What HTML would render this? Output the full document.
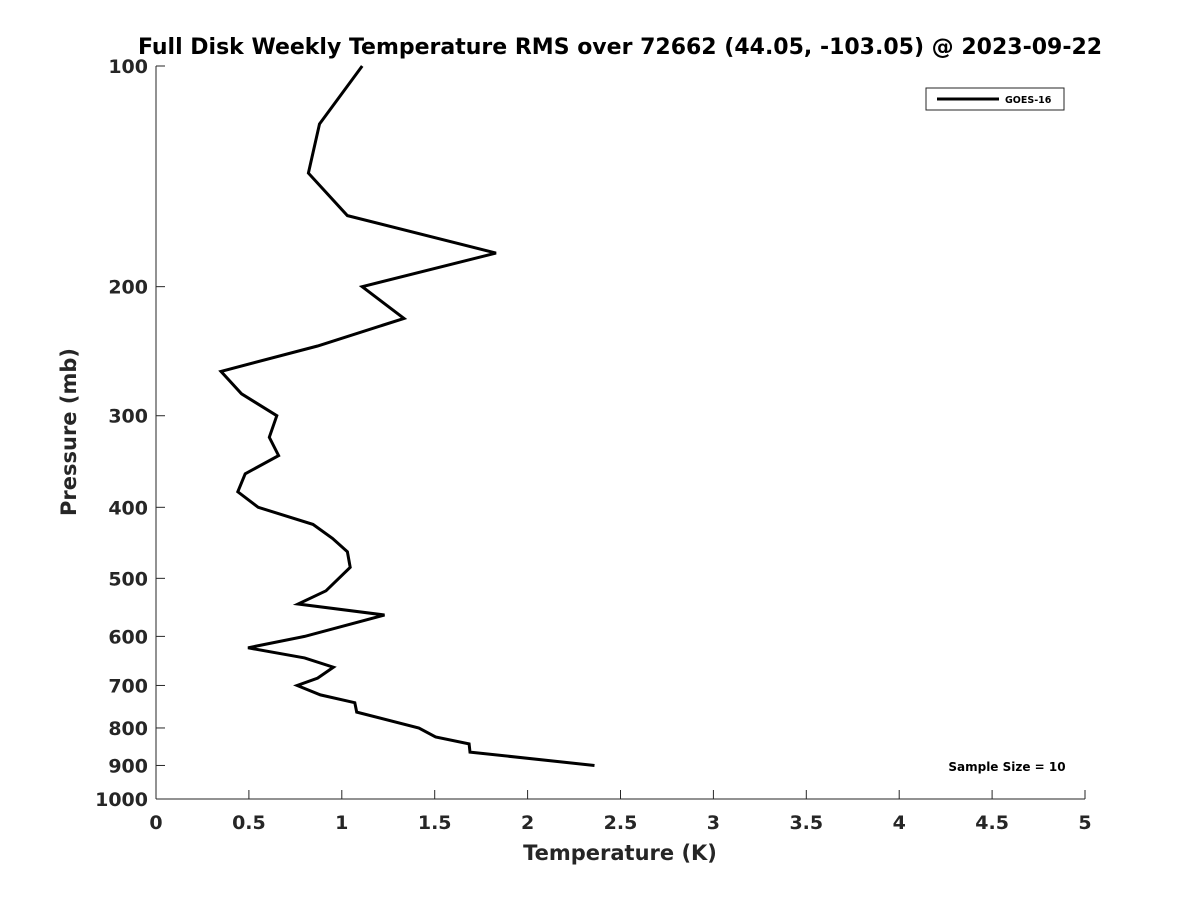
<!DOCTYPE html>
<html><head><meta charset="utf-8"><style>
body{margin:0;background:#fff;}
svg text{font-family:"DejaVu Sans","Liberation Sans",sans-serif;font-weight:bold;fill:#262626;}
</style></head><body>
<svg id="chart" width="1200" height="900" xmlns="http://www.w3.org/2000/svg">
<rect width="1200" height="900" fill="#fff"/>
<text x="620" y="54" text-anchor="middle" font-size="22" style="fill:#000">Full Disk Weekly Temperature RMS over 72662 (44.05, -103.05) @ 2023-09-22</text>
<g id="axes"></g>
<path id="line" fill="none" stroke="#000" stroke-width="3" stroke-linejoin="miter"/>
<g>
<rect x="926" y="88" width="138" height="22" fill="#fff" stroke="#262626" stroke-width="1"/>
<line x1="937" y1="99" x2="999" y2="99" stroke="#000" stroke-width="3"/>
<text x="1005" y="103" font-size="9.5" style="fill:#000">GOES-16</text>
</g>
<text x="1007" y="771" text-anchor="middle" font-size="12" style="fill:#000">Sample Size = 10</text>
<text x="620" y="860" text-anchor="middle" font-size="21">Temperature (K)</text>
<text transform="translate(76,432) rotate(-90)" text-anchor="middle" font-size="21">Pressure (mb)</text>
</svg>
<script>
const pressures=[100,120,140,160,180,200,221,241,261,280,300,321,340,360,381,400,422,441,460,483,520,542,561,600,622,642,661,684,700,721,739,761,800,823,841,863,900];
const temps=[1.11,0.88,0.82,1.03,1.83,1.11,1.335,0.87,0.35,0.46,0.65,0.61,0.66,0.48,0.44,0.55,0.845,0.95,1.03,1.045,0.915,0.765,1.23,0.8,0.495,0.8,0.955,0.87,0.76,0.885,1.07,1.08,1.415,1.505,1.685,1.69,2.36];
const xTicks=[0,0.5,1,1.5,2,2.5,3,3.5,4,4.5,5];
const yTicks=[100,200,300,400,500,600,700,800,900,1000];
const L=156,R=1085,T=66,B=799;
const xs=v=>L+(v-0)/(5-0)*(R-L);
const ys=p=>T+(Math.log10(p)-2)/1*(B-T);
const ns="http://www.w3.org/2000/svg";
const ax=document.getElementById('axes');
function mk(tag,attrs,txt){const e=document.createElementNS(ns,tag);for(const k in attrs)e.setAttribute(k,attrs[k]);if(txt!==undefined)e.textContent=txt;ax.appendChild(e);return e;}
let e=mk('line',{x1:L,y1:B,x2:R,y2:B,stroke:'#262626','stroke-width':1});


e=mk('line',{x1:L,y1:T,x2:L,y2:B,stroke:'#262626','stroke-width':1});


xTicks.forEach(v=>{const x=xs(v);
mk('line',{x1:x,y1:B,x2:x,y2:B-9,stroke:'#262626','stroke-width':1});
const t=mk('text',{x:x,y:B+30,'text-anchor':'middle','font-size':19},String(v));

});
yTicks.forEach(p=>{const y=ys(p);
mk('line',{x1:L,y1:y,x2:L+9,y2:y,stroke:'#262626','stroke-width':1});
const t=mk('text',{x:L-8,y:y+7,'text-anchor':'end','font-size':19},String(p));

});
document.getElementById('line').setAttribute('d',pressures.map((p,i)=>(i?'L':'M')+xs(temps[i]).toFixed(1)+','+ys(p).toFixed(1)).join(''));
</script>
</body></html>
